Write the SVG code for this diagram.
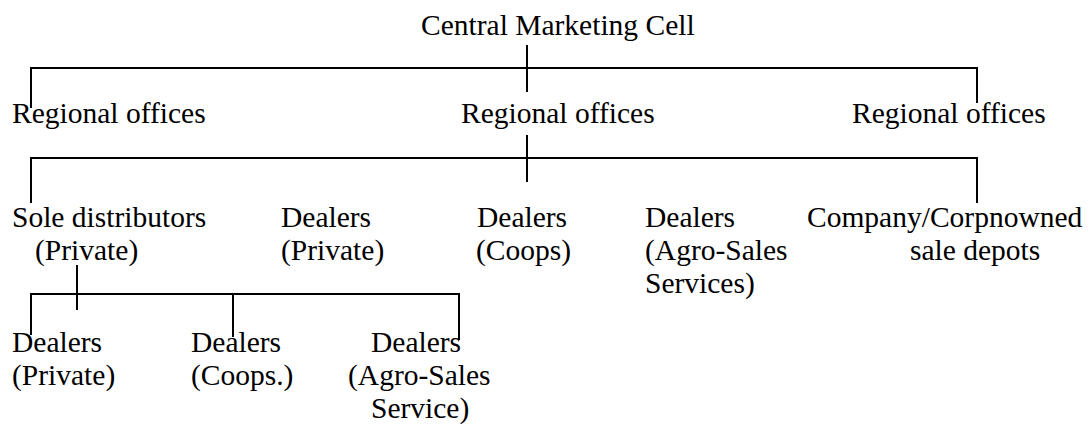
<svg xmlns="http://www.w3.org/2000/svg" width="1092" height="424" viewBox="0 0 1092 424">
<style>
text{font-family:"Liberation Serif","Times New Roman",serif;font-size:29.5px;fill:#000}
.c line{stroke:#000;stroke-width:2;fill:none}
</style>
<rect width="1092" height="424" fill="#fff"/>
<g class="c" id="connectors">
<line x1="527" y1="45" x2="527" y2="92"/>
<line x1="31" y1="68" x2="977" y2="68"/>
<line x1="31" y1="67" x2="31" y2="108"/>
<line x1="977" y1="67" x2="977" y2="103"/>
<line x1="527" y1="135" x2="527" y2="182"/>
<line x1="31" y1="158" x2="977" y2="158"/>
<line x1="31" y1="157" x2="31" y2="203"/>
<line x1="977" y1="157" x2="977" y2="203"/>
<line x1="77" y1="265" x2="77" y2="310"/>
<line x1="31" y1="294" x2="459" y2="294"/>
<line x1="31" y1="293" x2="31" y2="335"/>
<line x1="233" y1="293" x2="233" y2="337"/>
<line x1="459" y1="293" x2="459" y2="340"/>
</g>
<g id="central"><text x="421" y="35">Central Marketing Cell</text></g>
<g id="regional1"><text x="12" y="123">Regional offices</text></g>
<g id="regional2"><text x="461" y="123">Regional offices</text></g>
<g id="regional3"><text x="852" y="123">Regional offices</text></g>
<g id="sole"><text x="12" y="227">Sole distributors</text><text x="35" y="260">(Private)</text></g>
<g id="dealers-private"><text x="281" y="227">Dealers</text><text x="281" y="260">(Private)</text></g>
<g id="dealers-coops"><text x="477" y="227">Dealers</text><text x="476" y="260">(Coops)</text></g>
<g id="dealers-agro"><text x="645" y="227">Dealers</text><text x="645" y="260">(Agro-Sales</text><text x="645" y="293">Services)</text></g>
<g id="depots"><text x="807" y="227">Company/Corpnowned</text><text x="910" y="260">sale depots</text></g>
<g id="sub-private"><text x="12" y="352">Dealers</text><text x="12" y="385">(Private)</text></g>
<g id="sub-coops"><text x="191" y="352">Dealers</text><text x="191" y="385">(Coops.)</text></g>
<g id="sub-agro"><text x="371" y="352">Dealers</text><text x="348" y="385">(Agro-Sales</text><text x="371" y="418">Service)</text></g>
</svg>
